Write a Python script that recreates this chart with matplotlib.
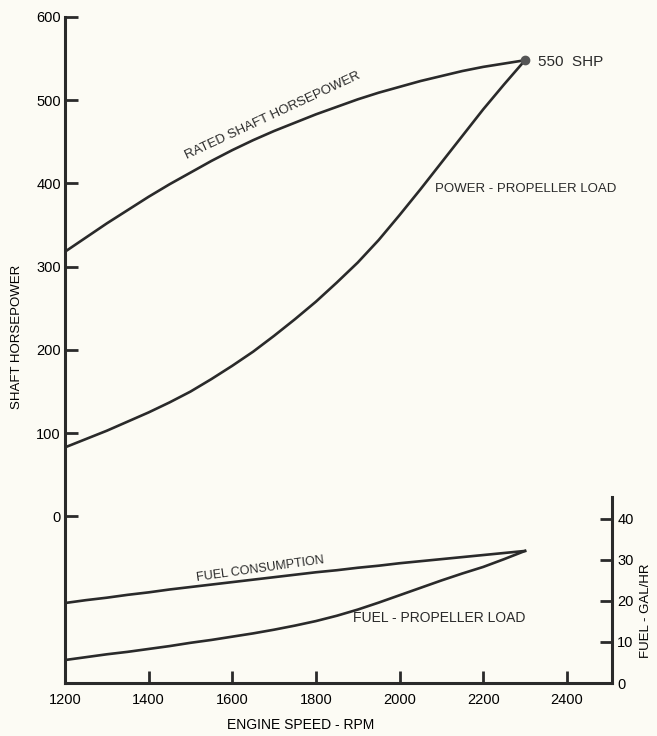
import matplotlib
matplotlib.use("Agg")
import matplotlib.pyplot as plt

# engine speed (rpm) used for every curve
rpm = [1200, 1250, 1300, 1350, 1400, 1450, 1500, 1550, 1600, 1650, 1700, 1750,
       1800, 1850, 1900, 1950, 2000, 2050, 2100, 2150, 2200, 2250, 2300]

# shaft horsepower curves (left axis)
rated_shp = [318, 335, 352, 368, 384, 399, 413, 427, 440, 452, 463, 473,
             483, 492, 501, 509, 516, 523, 529, 535, 540, 544, 548]
prop_shp = [83, 93, 103, 114, 125, 137, 150, 165, 181, 198, 217, 237,
            258, 281, 305, 332, 362, 393, 425, 457, 489, 519, 548]

# fuel curves, gal/hr (right axis)
fuel_rated = [19.5, 20.2, 20.8, 21.5, 22.1, 22.8, 23.4, 24.0, 24.6, 25.2, 25.8, 26.4,
              27.0, 27.5, 28.1, 28.6, 29.2, 29.7, 30.2, 30.7, 31.2, 31.7, 32.2]
fuel_prop = [5.6, 6.3, 7.0, 7.6, 8.3, 9.0, 9.8, 10.5, 11.3, 12.1, 13.0, 14.0,
             15.1, 16.4, 17.9, 19.6, 21.4, 23.2, 25.0, 26.7, 28.3, 30.2, 32.2]

shp_ticks = [0, 100, 200, 300, 400, 500, 600]
rpm_ticks = [1200, 1400, 1600, 1800, 2000, 2200, 2400]
fuel_ticks = [0, 10, 20, 30, 40]

plt.rcParams["font.family"] = ["Liberation Sans", "DejaVu Sans"]

ink = "#2a2a2a"
paper = "#fcfbf4"

fig = plt.figure(figsize=(6.57, 7.36), dpi=100, facecolor=paper)
ax = fig.add_axes([0.0989, 0.072, 0.832, 0.905])
ax.set_facecolor(paper)

ax.plot(rpm, rated_shp, color=ink, lw=1.9)
ax.plot(rpm, prop_shp, color=ink, lw=1.9)
ax.plot(rpm[-1], rated_shp[-1], "o", color="#555555", ms=6)

ax.set_xlim(1200, 2507)
ax.set_ylim(-200, 600)
ax.set_xticks(rpm_ticks)
ax.set_yticks(shp_ticks)
ax.tick_params(direction="in", length=9, width=2, color=ink, labelsize=10.5, pad=3)
ax.tick_params(axis="x", pad=7)
for s in ["top", "right"]:
    ax.spines[s].set_visible(False)
for s in ["left", "bottom"]:
    ax.spines[s].set_linewidth(2.2)
    ax.spines[s].set_color(ink)

ax.set_xlabel("ENGINE SPEED - RPM", fontsize=10)
ax.xaxis.set_label_coords(0.432, -0.052)
ax.set_ylabel("SHAFT HORSEPOWER", fontsize=9.5)
ax.yaxis.set_label_coords(-0.077, 0.52)

# fuel axis on the right
ax2 = ax.twinx()
ax2.plot(rpm, fuel_rated, color=ink, lw=1.9)
ax2.plot(rpm, fuel_prop, color=ink, lw=1.9)
ax2.set_ylim(0, 162.4)
ax2.set_yticks(fuel_ticks)
ax2.tick_params(direction="in", length=9, width=2, color=ink, labelsize=10.5, pad=4)
for s in ["top", "left", "bottom"]:
    ax2.spines[s].set_visible(False)
ax2.spines["right"].set_bounds(0, 45.4)
ax2.spines["right"].set_linewidth(2.2)
ax2.spines["right"].set_color(ink)
ax2.set_ylabel("FUEL - GAL/HR", fontsize=9.5)
ax2.yaxis.set_label_coords(1.052, 0.108)

# curve labels
ax.text(1697, 481, "RATED SHAFT HORSEPOWER", fontsize=9.5, rotation=25,
        ha="center", va="center", color=ink)
ax.text(2330, 546, "550  SHP", fontsize=11, ha="left", va="center", color=ink)
ax.text(2084, 393, "POWER - PROPELLER LOAD", fontsize=9.5, ha="left", va="center", color=ink)
ax2.text(1666, 27.8, "FUEL CONSUMPTION", fontsize=9, rotation=8,
         ha="center", va="center", color=ink)
ax2.text(1888, 15.9, "FUEL - PROPELLER LOAD", fontsize=10, ha="left", va="center", color=ink)

fig.savefig("out.png", dpi=100, facecolor=paper)
